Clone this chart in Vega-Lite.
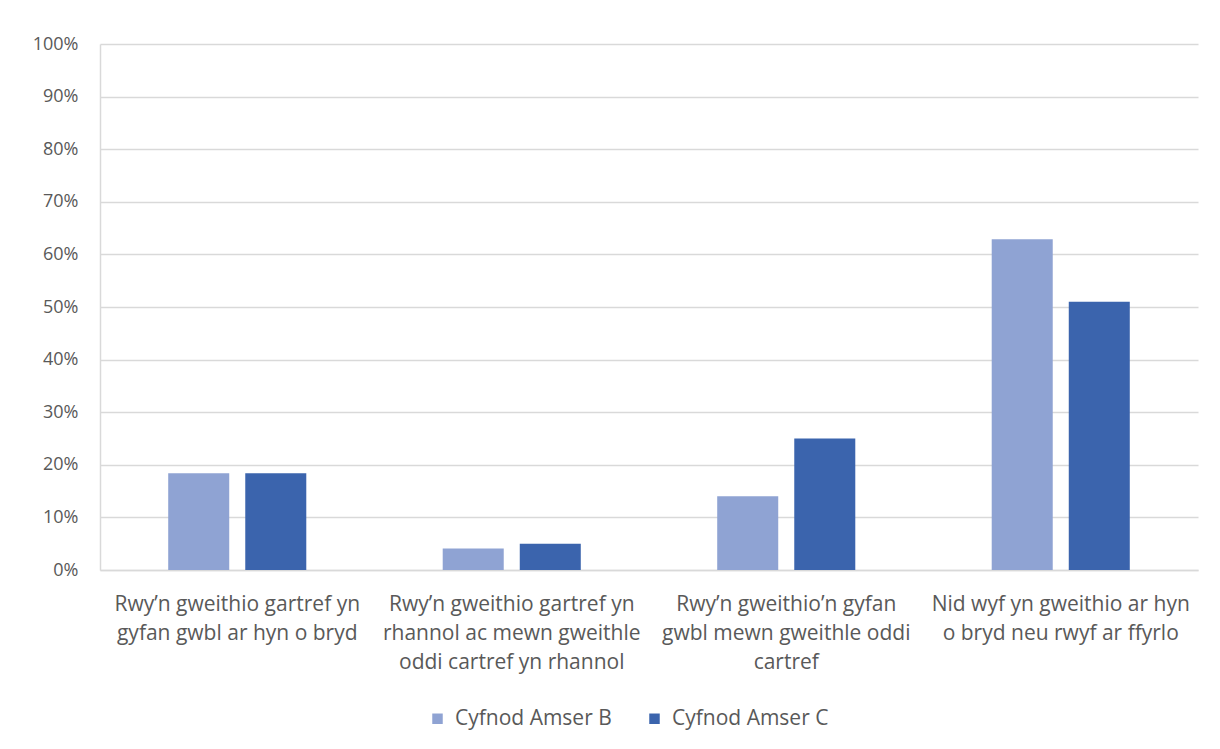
{
  "$schema": "https://vega.github.io/schema/vega-lite/v6.json",
  "autosize": {"type": "none"},
  "width": 1098,
  "height": 526,
  "padding": {"left": 100, "top": 44, "right": 22, "bottom": 179},
  "background": "white",
  "data": {
    "values": [
      {"sefyllfa": "Rwy’n gweithio gartref yn\ngyfan gwbl ar hyn o bryd", "cyfnod": "Cyfnod Amser B", "canran": 0.184},
      {"sefyllfa": "Rwy’n gweithio gartref yn\ngyfan gwbl ar hyn o bryd", "cyfnod": "Cyfnod Amser C", "canran": 0.184},
      {"sefyllfa": "Rwy’n gweithio gartref yn\nrhannol ac mewn gweithle\noddi cartref yn rhannol", "cyfnod": "Cyfnod Amser B", "canran": 0.041},
      {"sefyllfa": "Rwy’n gweithio gartref yn\nrhannol ac mewn gweithle\noddi cartref yn rhannol", "cyfnod": "Cyfnod Amser C", "canran": 0.05},
      {"sefyllfa": "Rwy’n gweithio’n gyfan\ngwbl mewn gweithle oddi\ncartref", "cyfnod": "Cyfnod Amser B", "canran": 0.14},
      {"sefyllfa": "Rwy’n gweithio’n gyfan\ngwbl mewn gweithle oddi\ncartref", "cyfnod": "Cyfnod Amser C", "canran": 0.25},
      {"sefyllfa": "Nid wyf yn gweithio ar hyn\no bryd neu rwyf ar ffyrlo", "cyfnod": "Cyfnod Amser B", "canran": 0.629},
      {"sefyllfa": "Nid wyf yn gweithio ar hyn\no bryd neu rwyf ar ffyrlo", "cyfnod": "Cyfnod Amser C", "canran": 0.51}
    ]
  },
  "mark": {"type": "bar"},
  "encoding": {
    "x": {
      "field": "sefyllfa",
      "type": "nominal",
      "sort": null,
      "title": null,
      "scale": {"paddingInner": 0.497, "paddingOuter": 0.2485},
      "axis": {
        "labelAngle": 0,
        "labelExpr": "split(datum.label, '\\n')",
        "labelFontSize": 21,
        "labelLineHeight": 29,
        "labelPadding": 23,
        "labelBaseline": "top",
        "labelLimit": 400,
        "ticks": false,
        "domainColor": "#d9d9d9",
        "domainWidth": 1.5
      }
    },
    "xOffset": {
      "field": "cyfnod",
      "type": "nominal",
      "scale": {"paddingInner": 0.208, "paddingOuter": 0}
    },
    "y": {
      "field": "canran",
      "type": "quantitative",
      "title": null,
      "scale": {"domain": [0, 1], "nice": false},
      "axis": {
        "format": ".0%",
        "values": [0, 0.1, 0.2, 0.3, 0.4, 0.5, 0.6, 0.7, 0.8, 0.9, 1],
        "ticks": false,
        "labelFontSize": 18,
        "labelPadding": 22,
        "domain": true,
        "domainColor": "#d9d9d9",
        "domainWidth": 1.5,
        "gridColor": "#d9d9d9",
        "gridWidth": 1.5
      }
    },
    "color": {
      "field": "cyfnod",
      "type": "nominal",
      "title": null,
      "scale": {"domain": ["Cyfnod Amser B", "Cyfnod Amser C"], "range": ["#8fa3d3", "#3b64ad"]},
      "legend": {
        "orient": "none",
        "legendX": 327,
        "legendY": 664,
        "direction": "horizontal",
        "symbolType": "square",
        "symbolSize": 110,
        "symbolStrokeWidth": 0,
        "labelFontSize": 21,
        "labelOffset": 7,
        "labelColor": "#595959",
        "labelFont": "Open Sans",
        "columnPadding": 32
      }
    }
  },
  "config": {
    "view": {"stroke": null},
    "axis": {
      "labelFont": "Open Sans",
      "labelColor": "#595959"
    }
  }
}
